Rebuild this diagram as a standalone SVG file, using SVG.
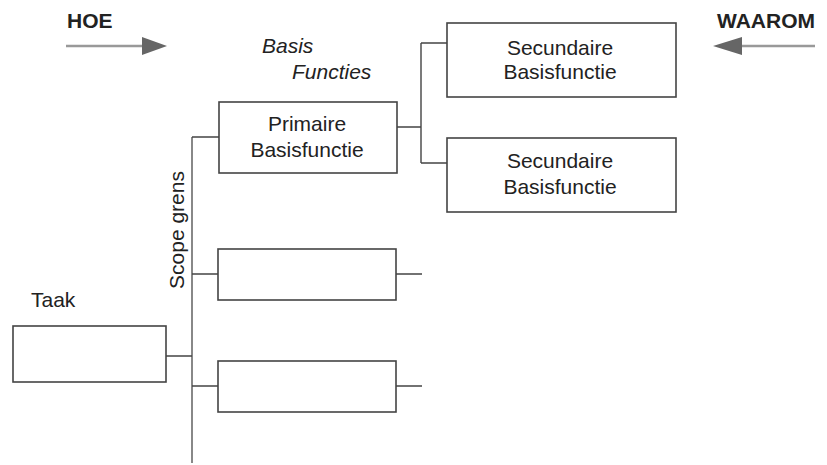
<svg xmlns="http://www.w3.org/2000/svg" width="827" height="465" viewBox="0 0 827 465">
<style>
.box{fill:#fff;stroke:#444;stroke-width:1.6}
.ln{fill:none;stroke:#444;stroke-width:1.4}
.scope{fill:none;stroke:#888;stroke-width:2}
.arr{fill:none;stroke:#999;stroke-width:2.5}
.head{fill:#666}
text{font-family:"Liberation Sans",Arial,sans-serif;font-size:21px;fill:#222}
.c{text-anchor:middle}
.b{font-weight:bold}
.i{font-style:italic}
</style>
<g id="connectors">
<path class="scope" d="M192 137V463"/>
<path class="ln" d="M192 137H219M192 274H218M192 386H218M166 356H192M396 274H422M396 386H422M397 127H421M421 43V163M421 43H447M421 163H447"/>
</g>
<g id="hoe">
<text class="b" x="67" y="28">HOE</text>
<path class="arr" d="M66 46H143"/>
<polygon class="head" points="142,37 167,46 142,55"/>
</g>
<g id="waarom">
<text class="b" x="717" y="28">WAAROM</text>
<path class="arr" d="M741 46H815"/>
<polygon class="head" points="713,46 742,37 742,55"/>
</g>
<g id="basis-functies-label">
<text class="i" x="262" y="53">Basis</text>
<text class="i" x="292" y="79">Functies</text>
</g>
<g id="scope-label">
<text class="c" transform="translate(184 230) rotate(-90)">Scope grens</text>
</g>
<g id="taak">
<text x="31" y="307">Taak</text>
<rect class="box" x="13" y="326" width="153" height="56"/>
</g>
<g id="primaire">
<rect class="box" x="219" y="102" width="178" height="71"/>
<text class="c" x="307" y="131">Primaire</text>
<text class="c" x="307" y="157">Basisfunctie</text>
</g>
<g id="secundaire1">
<rect class="box" x="447" y="23" width="229" height="74"/>
<text class="c" x="560" y="55">Secundaire</text>
<text class="c" x="560" y="79">Basisfunctie</text>
</g>
<g id="secundaire2">
<rect class="box" x="447" y="138" width="229" height="74"/>
<text class="c" x="560" y="168">Secundaire</text>
<text class="c" x="560" y="194">Basisfunctie</text>
</g>
<g id="leeg1">
<rect class="box" x="218" y="249" width="178" height="51"/>
</g>
<g id="leeg2">
<rect class="box" x="218" y="361" width="178" height="51"/>
</g>
</svg>
